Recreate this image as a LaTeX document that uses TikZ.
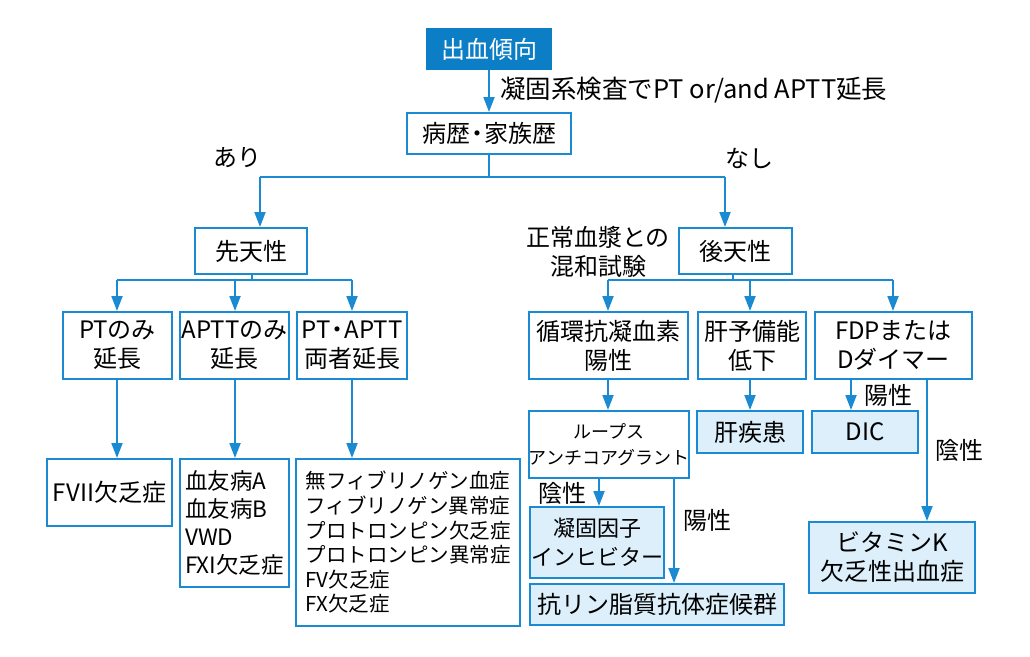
\documentclass[tikz,border=0pt]{standalone}
\usepackage{fontspec}
\setmainfont{Noto Sans CJK JP}
\usetikzlibrary{arrows.meta}
\definecolor{lineblue}{HTML}{1A8AD2}
\definecolor{darkblue}{HTML}{0B7EC6}
\definecolor{lightblue}{HTML}{DCEFFA}
\newcommand{\ndot}{\kern-5pt・\kern-5pt}
\begin{document}
\begin{tikzpicture}[x=1pt,y=-1pt,
  box/.style={draw=lineblue,line width=2pt,rectangle,inner sep=0pt,align=center,font=\fontsize{24}{29}\selectfont},
  lbox/.style={box,fill=lightblue},
  topbox/.style={box,fill=darkblue,draw=darkblue,text=white},
  ln/.style={draw=lineblue,line width=2pt},
  arr/.style={ln,-{Triangle[width=11pt,length=15pt]}},
  lab/.style={inner sep=0pt,font=\fontsize{24}{29}\selectfont,align=center}]
\useasboundingbox (0,0) rectangle (1030,656);
% boxes
\node[topbox,minimum width=124pt,minimum height=40pt] (top) at (489,49) {出血傾向};
\node[box,minimum width=164pt,minimum height=41pt] (byo) at (489,133.5) {病歴\ndot 家族歴};
\node[box,minimum width=112pt,minimum height=46pt] (sen) at (251,251) {先天性};
\node[box,minimum width=113pt,minimum height=46pt] (kou) at (735.5,251) {後天性};
\node[box,minimum width=109pt,minimum height=67pt] (pt) at (117.5,345.5) {PTのみ\\延長};
\node[box,minimum width=109pt,minimum height=67pt] (aptt) at (234.5,345.5) {APTTのみ\\延長};
\node[box,minimum width=110pt,minimum height=67pt] (both) at (352,345.5) {PT\ndot APTT\\両者延長};
\node[box,minimum width=159pt,minimum height=67pt] (jun) at (608.5,345.5) {循環抗凝血素\\陽性};
\node[box,minimum width=108pt,minimum height=67pt] (kan) at (752,345.5) {肝予備能\\低下};
\node[box,minimum width=157pt,minimum height=67pt] (fdp) at (893.5,345.5) {FDPまたは\\Dダイマー};
\node[box,minimum width=125pt,minimum height=67pt] (f7) at (109.5,492.5) {FVII欠乏症};
\node[box,minimum width=109pt,minimum height=128pt,align=left,font=\fontsize{22.5}{28}\selectfont] (hem) at (234.5,523) {血友病A\\血友病B\\VWD\\FXI欠乏症};
\node[box,minimum width=224pt,minimum height=167pt,align=left,font=\fontsize{20.5}{24.6}\selectfont] (fib) at (408,542.5) {無フィブリノゲン血症\\フィブリノゲン異常症\\プロトロンピン欠乏症\\プロトロンピン異常症\\FV欠乏症\\FX欠乏症};
\node[box,minimum width=154pt,minimum height=67pt,font=\fontsize{18}{26}\selectfont] (lup) at (609,444.5) {ループス\\アンチコアグラント};
\node[lbox,minimum width=106pt,minimum height=42pt] (kansh) at (750,432) {肝疾患};
\node[lbox,minimum width=106pt,minimum height=42pt] (dic) at (865,432) {DIC};
\node[lbox,minimum width=166pt,minimum height=71pt] (vitk) at (892,557.5) {ビタミンK\\欠乏性出血症};
\node[lbox,minimum width=134pt,minimum height=71pt,font=\fontsize{22}{29}\selectfont] (inh) at (597,542.5) {凝固因子\\インヒビター};
\node[lbox,minimum width=254pt,minimum height=41pt] (apl) at (657,604.5) {抗リン脂質抗体症候群};
% labels
\node[lab,anchor=west,font=\fontsize{25.5}{29}\selectfont] (l0) at (500,90) {凝固系検査でPT or/and APTT延長};
\node[lab] (l1) at (237,158) {あり};
\node[lab] (l2) at (749,158) {なし};
\node[lab] (l3) at (598,252) {正常血漿との\\混和試験};
\node[lab] (l4) at (888,395) {陽性};
\node[lab] (l5) at (959,450) {陰性};
\node[lab] (l6) at (562,493) {陰性};
\node[lab] (l7) at (707,520) {陽性};
% coordinates
\coordinate (j0) at (489,177);
\coordinate (jl) at (260,177);
\coordinate (jr) at (725,177);
\coordinate (s0) at (252,280);
\coordinate (s1) at (117,280);
\coordinate (s2) at (235,280);
\coordinate (s3) at (352,280);
\coordinate (k0) at (733,280);
\coordinate (k1) at (608,280);
\coordinate (k2) at (750,280);
\coordinate (k3) at (893,280);
\coordinate (xd) at (851,0);
\coordinate (xv) at (927,0);
\coordinate (xi) at (599,0);
\coordinate (xa) at (674,0);
% connectors
\draw[arr] (top) -- (byo);
\draw[ln] (byo.south) -- (j0);
\draw[ln] (jl) -- (jr);
\draw[arr] (jl) -- (jl |- sen.north);
\draw[arr] (jr) -- (jr |- kou.north);
\draw[ln] (sen.south -| s0) -- (s0);
\draw[ln] (s1) -- (s3);
\draw[arr] (s1) -- (s1 |- pt.north);
\draw[arr] (s2) -- (s2 |- aptt.north);
\draw[arr] (s3) -- (s3 |- both.north);
\draw[ln] (kou.south -| k0) -- (k0);
\draw[ln] (k1) -- (k3);
\draw[arr] (k1) -- (k1 |- jun.north);
\draw[arr] (k2) -- (k2 |- kan.north);
\draw[arr] (k3) -- (k3 |- fdp.north);
\draw[arr] (pt.south -| s1) -- (f7.north -| s1);
\draw[arr] (aptt.south -| s2) -- (hem.north -| s2);
\draw[arr] (both.south -| s3) -- (fib.north -| s3);
\draw[arr] (jun.south -| k1) -- (lup.north -| k1);
\draw[arr] (kan.south -| k2) -- (kansh.north -| k2);
\draw[arr] (fdp.south -| xd) -- (dic.north -| xd);
\draw[arr] (fdp.south -| xv) -- (vitk.north -| xv);
\draw[arr] (lup.south -| xi) -- (inh.north -| xi);
\draw[arr] (lup.south -| xa) -- (apl.north -| xa);
\end{tikzpicture}
\end{document}
